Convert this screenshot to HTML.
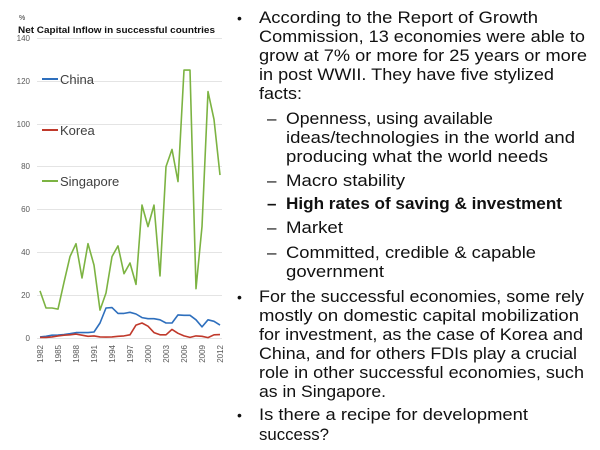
<!DOCTYPE html>
<html><head><meta charset="utf-8"><style>
html,body{margin:0;padding:0;background:#fff;}
svg{display:block;font-family:"Liberation Sans",sans-serif;}
</style></head><body>
<svg width="600" height="450" viewBox="0 0 600 450" xmlns="http://www.w3.org/2000/svg">
<g stroke="#e4e4e4" stroke-width="1">
<line x1="37" x2="222" y1="38.5" y2="38.5"/><line x1="37" x2="222" y1="81.5" y2="81.5"/>
<line x1="37" x2="222" y1="124.5" y2="124.5"/><line x1="37" x2="222" y1="166.5" y2="166.5"/>
<line x1="37" x2="222" y1="209.5" y2="209.5"/><line x1="37" x2="222" y1="252.5" y2="252.5"/>
<line x1="37" x2="222" y1="295.5" y2="295.5"/><line x1="37" x2="222" y1="338.5" y2="338.5"/>
</g>
<g font-size="8" fill="#595959" text-anchor="end">
<text x="30" y="41">140</text><text x="30" y="84">120</text><text x="30" y="127">100</text>
<text x="30" y="169">80</text><text x="30" y="212">60</text><text x="30" y="255">40</text>
<text x="30" y="298">20</text><text x="30" y="341">0</text>
</g>
<text x="19" y="20" font-size="7" fill="#333">%</text>
<text x="18" y="33" font-size="9" font-weight="bold" fill="#111" textLength="197" lengthAdjust="spacingAndGlyphs">Net Capital Inflow in successful countries</text>
<g font-size="8" fill="#595959" text-anchor="end">
<text transform="translate(43,345) rotate(-90)">1982</text>
<text transform="translate(61,345) rotate(-90)">1985</text>
<text transform="translate(79,345) rotate(-90)">1988</text>
<text transform="translate(97,345) rotate(-90)">1991</text>
<text transform="translate(115,345) rotate(-90)">1994</text>
<text transform="translate(133,345) rotate(-90)">1997</text>
<text transform="translate(151,345) rotate(-90)">2000</text>
<text transform="translate(169,345) rotate(-90)">2003</text>
<text transform="translate(187,345) rotate(-90)">2006</text>
<text transform="translate(205,345) rotate(-90)">2009</text>
<text transform="translate(223,345) rotate(-90)">2012</text>
</g>
<polyline fill="none" stroke="#7cb342" stroke-width="1.6" stroke-linejoin="round" points="40,290.9 46,308.0 52,308.0 58,309.1 64,282.3 70,256.6 76,243.7 82,278.0 88,243.7 94,265.1 100,310.1 106,293.0 112,256.6 118,245.9 124,273.7 130,263.0 136,284.4 142,205.1 148,226.6 154,205.1 160,275.9 166,166.6 172,149.4 178,181.6 184,70.1 190,70.1 196,288.7 202,226.6 208,91.6 214,119.4 220,175.1"/>
<polyline fill="none" stroke="#2e6fbd" stroke-width="1.6" stroke-linejoin="round" points="40,336.9 46,336.3 52,335.2 58,335.0 64,334.6 70,333.7 76,332.6 82,332.6 88,332.6 94,332.0 100,323.0 106,308.0 112,307.6 118,313.4 124,313.4 130,312.3 136,314.0 142,317.6 148,318.7 154,318.7 160,319.8 166,323.0 172,323.0 178,314.9 184,315.3 190,315.3 196,319.8 202,326.9 208,319.8 214,321.3 220,325.1"/>
<polyline fill="none" stroke="#c0392b" stroke-width="1.6" stroke-linejoin="round" points="40,337.4 46,337.4 52,336.9 58,335.9 64,335.2 70,334.8 76,334.1 82,335.2 88,336.3 94,335.9 100,336.9 106,337.1 112,336.9 118,336.3 124,335.9 130,334.8 136,325.1 142,323.0 148,326.2 154,332.6 160,334.8 166,334.8 172,329.4 178,333.3 184,335.9 190,337.4 196,335.9 202,336.3 208,337.6 214,334.8 220,334.6"/>
<line x1="42" x2="58" y1="79" y2="79" stroke="#2e6fbd" stroke-width="2"/>
<line x1="42" x2="58" y1="130" y2="130" stroke="#c0392b" stroke-width="2"/>
<line x1="42" x2="58" y1="181" y2="181" stroke="#7cb342" stroke-width="2"/>
<g font-size="13" fill="#404040">
<text x="60" y="84">China</text><text x="60" y="135">Korea</text><text x="60" y="186">Singapore</text>
</g>
<g font-size="17" fill="#111" lengthAdjust="spacingAndGlyphs">
<text x="237" y="23" font-size="14">•</text>
<text x="259" y="23" textLength="279" lengthAdjust="spacingAndGlyphs">According to the Report of Growth</text>
<text x="259" y="42" textLength="326" lengthAdjust="spacingAndGlyphs">Commission, 13 economies were able to</text>
<text x="259" y="61" textLength="328" lengthAdjust="spacingAndGlyphs">grow at 7% or more for 25 years or more</text>
<text x="259" y="80" textLength="295" lengthAdjust="spacingAndGlyphs">in post WWII. They have five stylized</text>
<text x="259" y="99" textLength="43" lengthAdjust="spacingAndGlyphs">facts:</text>
<text x="267" y="124">–</text>
<text x="286" y="124" textLength="207" lengthAdjust="spacingAndGlyphs">Openness, using available</text>
<text x="286" y="143" textLength="289" lengthAdjust="spacingAndGlyphs">ideas/technologies in the world and</text>
<text x="286" y="162" textLength="262" lengthAdjust="spacingAndGlyphs">producing what the world needs</text>
<text x="267" y="186">–</text>
<text x="286" y="186" textLength="119" lengthAdjust="spacingAndGlyphs">Macro stability</text>
<text x="267" y="209" font-weight="bold">–</text>
<text x="286" y="209" font-weight="bold" textLength="276" lengthAdjust="spacingAndGlyphs">High rates of saving &amp; investment</text>
<text x="267" y="233">–</text>
<text x="286" y="233" textLength="57" lengthAdjust="spacingAndGlyphs">Market</text>
<text x="267" y="258">–</text>
<text x="286" y="258" textLength="250" lengthAdjust="spacingAndGlyphs">Committed, credible &amp; capable</text>
<text x="286" y="277" textLength="98" lengthAdjust="spacingAndGlyphs">government</text>
<text x="237" y="302" font-size="14">•</text>
<text x="259" y="302" textLength="325" lengthAdjust="spacingAndGlyphs">For the successful economies, some rely</text>
<text x="259" y="321" textLength="320" lengthAdjust="spacingAndGlyphs">mostly on domestic capital mobilization</text>
<text x="259" y="340" textLength="324" lengthAdjust="spacingAndGlyphs">for investment, as the case of Korea and</text>
<text x="259" y="359" textLength="318" lengthAdjust="spacingAndGlyphs">China, and for others FDIs play a crucial</text>
<text x="259" y="378" textLength="325" lengthAdjust="spacingAndGlyphs">role in other successful economies, such</text>
<text x="259" y="397" textLength="127" lengthAdjust="spacingAndGlyphs">as in Singapore.</text>
<text x="237" y="420" font-size="14">•</text>
<text x="259" y="420" textLength="269" lengthAdjust="spacingAndGlyphs">Is there a recipe for development</text>
<text x="259" y="440" textLength="70" lengthAdjust="spacingAndGlyphs">success?</text>
</g>
</svg>
</body></html>
